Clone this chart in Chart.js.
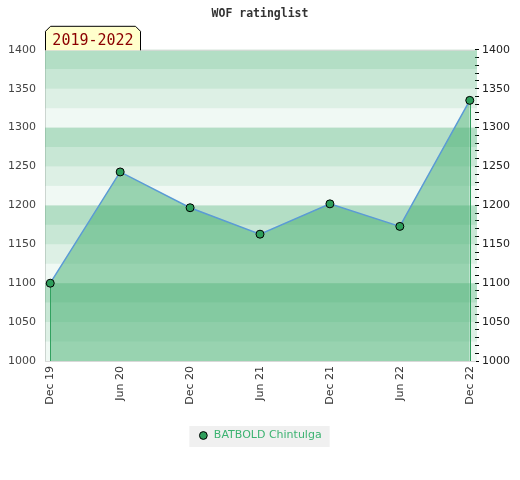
<!DOCTYPE html>
<html lang="en">
<head>
<meta charset="UTF-8">
<title>WOF ratinglist</title>
<style>
  html, body { margin: 0; padding: 0; background: #fff; }
  #wrap { width: 520px; height: 480px; }
</style>
</head>
<body>
<div id="wrap"><canvas id="ratingChart"></canvas></div>
<script src="https://cdn.jsdelivr.net/npm/chart.js@4.4.0/dist/chart.umd.min.js"></script>
<script>
// data
var periods = ['Dec 19', 'Jun 20', 'Dec 20', 'Jun 21', 'Dec 21', 'Jun 22', 'Dec 22'];
var ratings = [1100, 1243, 1197, 1163, 1202, 1173, 1335];
var playerName = 'BATBOLD Chintulga';
var rangeLabel = '2019-2022';
var yMin = 1000, yMax = 1400;

var green = '65, 173, 110';
var bandAlpha = [0.08, 0.18, 0.29, 0.4];   // 00-25, 25-50, 50-75, 75-100 of each hundred

// striped background + frame + label box
var decor = {
  id: 'decor',
  beforeDatasetsDraw: function (chart) {
    var c = chart.ctx, a = chart.chartArea, y = chart.scales.y, x = chart.scales.x;
    c.save();
    for (var v = yMin; v < yMax; v += 25) {
      var top = y.getPixelForValue(v + 25), bot = y.getPixelForValue(v);
      c.fillStyle = 'rgba(' + green + ',' + bandAlpha[(v % 100) / 25] + ')';
      c.fillRect(a.left, top, a.right - a.left + 2, bot - top);
    }
    c.strokeStyle = '#d8d8d8';
    c.lineWidth = 1;
    c.beginPath();
    c.moveTo(a.left, a.top + 0.5);
    c.lineTo(a.right, a.top + 0.5);
    c.stroke();

    // vertical edges of the filled area
    c.strokeStyle = '#2e9e5b';
    [0, ratings.length - 1].forEach(function (i) {
      var px = Math.round(x.getPixelForValue(i)) + 0.5;
      c.beginPath();
      c.moveTo(px, y.getPixelForValue(ratings[i]));
      c.lineTo(px, y.getPixelForValue(yMin));
      c.stroke();
    });
    c.restore();
  },
  afterDraw: function (chart) {
    var c = chart.ctx, a = chart.chartArea;
    c.save();
    // label box with clipped top corners
    var l = a.left + 0.5, r = a.left + 95.5, t = a.top - 23.5, b = a.top + 0.5, k = 5;
    c.beginPath();
    c.moveTo(l, b);
    c.lineTo(l, t + k);
    c.lineTo(l + k, t);
    c.lineTo(r - k, t);
    c.lineTo(r, t + k);
    c.lineTo(r, b);
    c.fillStyle = '#ffffcc';
    c.fill();
    c.strokeStyle = '#000';
    c.lineWidth = 1;
    c.stroke();
    c.fillStyle = '#8b0000';
    c.font = '15px "DejaVu Sans Mono"';
    c.textAlign = 'center';
    c.textBaseline = 'alphabetic';
    c.fillText(rangeLabel, (l + r) / 2, b - 5);

    c.restore();
  },
  beforeDraw: function (chart) {
    // legend background
    var lg = chart.legend;
    if (!lg || !lg.legendHitBoxes.length) return;
    var hb = lg.legendHitBoxes[0];
    var c = chart.ctx;
    c.save();
    c.fillStyle = '#f0f0f0';
    c.fillRect(hb.left - 9, hb.top - 4, hb.width + 17, 21);
    c.restore();
  }
};

var ctx = document.getElementById('ratingChart').getContext('2d');
var chart = new Chart(ctx, {
  type: 'line',
  data: {
    datasets: [{
      label: playerName,
      data: ratings.map(function (v, i) { return { x: i, y: v }; }),
      borderColor: '#5b9bd5',
      borderWidth: 1.5,
      backgroundColor: 'rgba(' + green + ', 0.5)',
      fill: 'start',
      tension: 0,
      pointRadius: 4,
      pointHoverRadius: 4,
      pointBackgroundColor: '#2e9e5b',
      pointBorderColor: '#000',
      pointBorderWidth: 1,
      yAxisID: 'y'
    }]
  },
  options: {
    responsive: true,
    maintainAspectRatio: false,
    animation: false,
    layout: { padding: { left: 0, right: 0, top: 0, bottom: 29 } },
    plugins: {
      title: {
        display: true,
        text: 'WOF ratinglist',
        color: '#333',
        font: { family: 'DejaVu Sans Mono', size: 11.5, weight: 'bold' },
        padding: { top: 7, bottom: 29 }
      },
      legend: {
        position: 'bottom',
        labels: {
          color: '#3cb371',
          font: { family: 'DejaVu Sans', size: 11 },
          usePointStyle: true,
          pointStyle: 'circle',
          boxHeight: 5.5,
          boxWidth: 10,
          padding: 10,
          generateLabels: function (ch) {
            return [{
              text: playerName,
              fillStyle: '#2e9e5b',
              strokeStyle: '#000',
              lineWidth: 1,
              pointStyle: 'circle',
              fontColor: '#3cb371',
              datasetIndex: 0
            }];
          }
        }
      },
      tooltip: { enabled: false }
    },
    scales: {
      x: {
        type: 'linear',
        min: -0.075,
        max: 6.075,
        afterBuildTicks: function (scale) {
          scale.ticks = periods.map(function (_, i) { return { value: i }; });
        },
        afterFit: function (scale) { scale.height = 59; },
        grid: { display: false, drawTicks: false },
        border: { display: true, color: '#d8d8d8' },
        ticks: {
          autoSkip: false,
          minRotation: 90,
          maxRotation: 90,
          padding: 5,
          color: '#333',
          font: { family: 'DejaVu Sans', size: 11 },
          callback: function (v) { return periods[v]; }
        }
      },
      y: {
        position: 'left',
        min: yMin,
        max: yMax,
        afterFit: function (scale) { scale.width = 45; },
        grid: { display: false, drawTicks: false },
        border: { display: true, color: '#d8d8d8' },
        ticks: {
          stepSize: 50,
          padding: 9,
          color: '#444',
          font: { family: 'DejaVu Sans', size: 11 },
          callback: function (v) { return String(v); }
        }
      },
      y2: {
        position: 'right',
        min: yMin,
        max: yMax,
        afterFit: function (scale) { scale.width = 45; },
        grid: { drawOnChartArea: false, drawTicks: true, tickLength: 4, color: '#000', tickWidth: 1 },
        border: { display: false },
        ticks: {
          stepSize: 10,
          autoSkip: false,
          padding: 3,
          color: '#222',
          font: { family: 'DejaVu Sans', size: 11 },
          callback: function (v) { return v % 50 === 0 ? String(v) : ''; }
        }
      }
    }
  },
  plugins: [decor]
});
</script>
</body>
</html>
